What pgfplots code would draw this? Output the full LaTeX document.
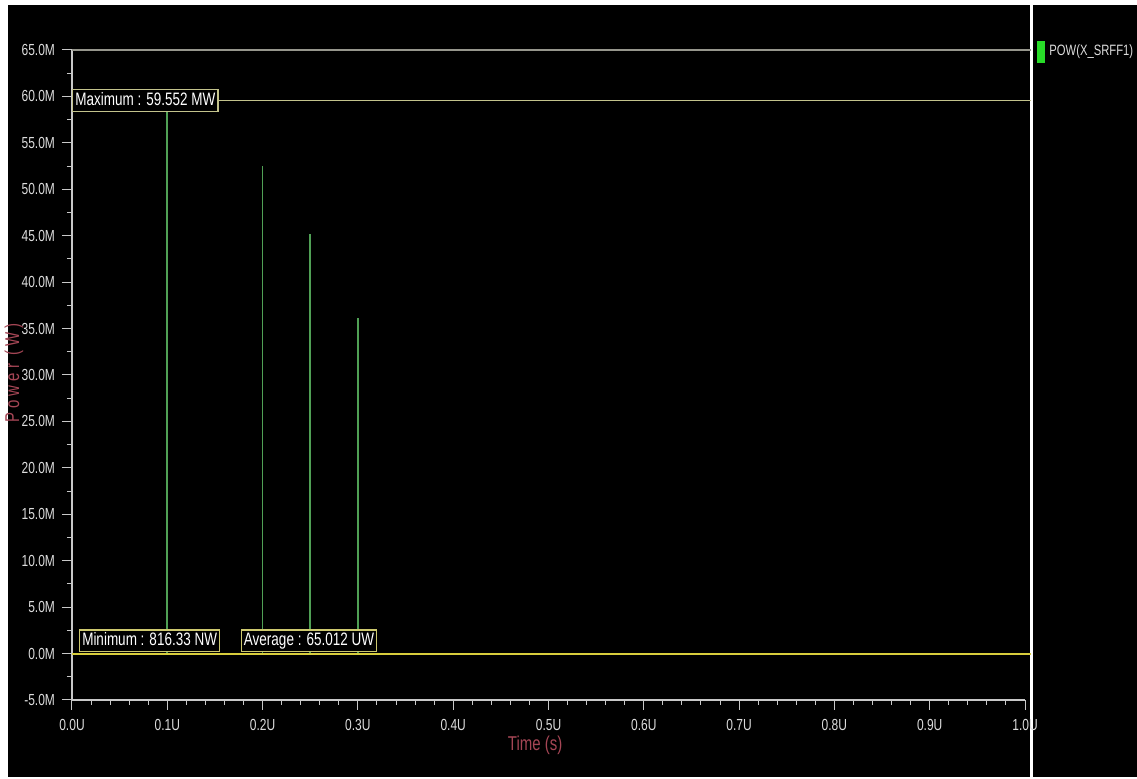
\documentclass[border=0pt]{standalone}
\usepackage{fontspec}
\setmainfont{Liberation Sans}[FakeStretch=0.75]
\usepackage{pgfplots}
\pgfplotsset{compat=1.18}
\definecolor{axgray}{RGB}{200,200,200}
\definecolor{ticktxt}{RGB}{220,220,220}
\definecolor{line65}{RGB}{150,150,140}
\definecolor{maxc}{RGB}{195,195,140}
\definecolor{zeroc}{RGB}{215,205,60}
\definecolor{boxc}{RGB}{205,200,110}
\definecolor{spike}{RGB}{80,160,85}
\definecolor{labred}{RGB}{165,70,85}
\definecolor{leggreen}{RGB}{40,220,40}
\begin{document}
\begin{tikzpicture}
\fill[white] (0,0) rectangle (568.5pt,389.5pt);
\fill[black] (4pt,1pt) rectangle (515pt,387pt);
\fill[black] (516.5pt,1pt) rectangle (568.5pt,387pt);
\begin{axis}[
  at={(36pt,39.5pt)}, anchor=south west,
  scale only axis, width=476.5pt, height=325pt,
  xmin=0, xmax=1.0, ymin=-5, ymax=65,
  clip=false,
  axis x line*=bottom, axis y line*=left,
  axis line style={axgray, line width=0.75pt, -},
  every tick/.style={axgray, line width=0.5pt},
  tick align=outside,
  major tick length=5pt, minor tick length=2.5pt,
  xtick={0,0.1,0.2,0.3,0.4,0.5,0.6,0.7,0.8,0.9,1.0},
  ytick={-5,0,5,10,15,20,25,30,35,40,45,50,55,60,65},
  minor x tick num=4, minor y tick num=1,
  /pgf/number format/assume math mode=true,
  xticklabel={\pgfmathprintnumber[fixed,fixed zerofill,precision=1]{\tick}U},
  yticklabel={\pgfmathprintnumber[fixed,fixed zerofill,precision=1]{\tick}M},
  ticklabel style={font=\fontsize{8}{9}\selectfont, text=ticktxt},
  xticklabel style={yshift=-1pt},
  xlabel={Time (s)},
  ylabel={\addfontfeature{LetterSpace=20}Power (W)},
  xlabel style={at={(axis description cs:0.486,-0.069)}, anchor=center, font=\fontsize{10}{11}\selectfont, text=labred},
  ylabel style={at={(axis description cs:-0.061,0.503)}, anchor=center, font=\fontsize{10}{11}\selectfont, text=labred},
  legend style={at={(rel axis cs:1.012,0.997)}, anchor=west, draw=none, fill=none,
    text=ticktxt, font=\fontsize{7.5}{8}\selectfont, inner sep=0pt},
  legend cell align=left,
  legend image code/.code={\fill[leggreen] (0pt,-5pt) rectangle (3.5pt,5pt);},
]
\addplot[spike, line width=0.8pt, ycomb, no marks] coordinates {
  (0.1,59.552) (0.2,52.5) (0.25,45.2) (0.3,36.1)
};
\addlegendentry{POW(X\_SRFF1)}
\draw[line65, line width=0.7pt] (axis cs:0,65) -- (axis cs:1.006,65);
\draw[maxc, line width=0.9pt] (axis cs:0,59.552) -- (axis cs:1.006,59.552);
\draw[zeroc, line width=1pt] (axis cs:0,0) -- (axis cs:1.006,0);
\tikzset{annbox/.style={line width=0.7pt, fill=black, text=white, inner sep=1.3pt,
  text height=6.6pt, text depth=1.6pt, font=\fontsize{9}{10}\selectfont}}
\node[annbox, draw=maxc, anchor=west] at (axis cs:0,59.552) {Maximum : 59.552 MW};
\node[annbox, draw=boxc, anchor=south west] at (axis cs:0.0073,0.15) {Minimum : 816.33 NW};
\node[annbox, draw=boxc, anchor=south west] at (axis cs:0.177,0.15) {Average : 65.012 UW};
\end{axis}
\pgfresetboundingbox
\useasboundingbox (0,0) rectangle (568.5pt,389.5pt);
\end{tikzpicture}
\end{document}
